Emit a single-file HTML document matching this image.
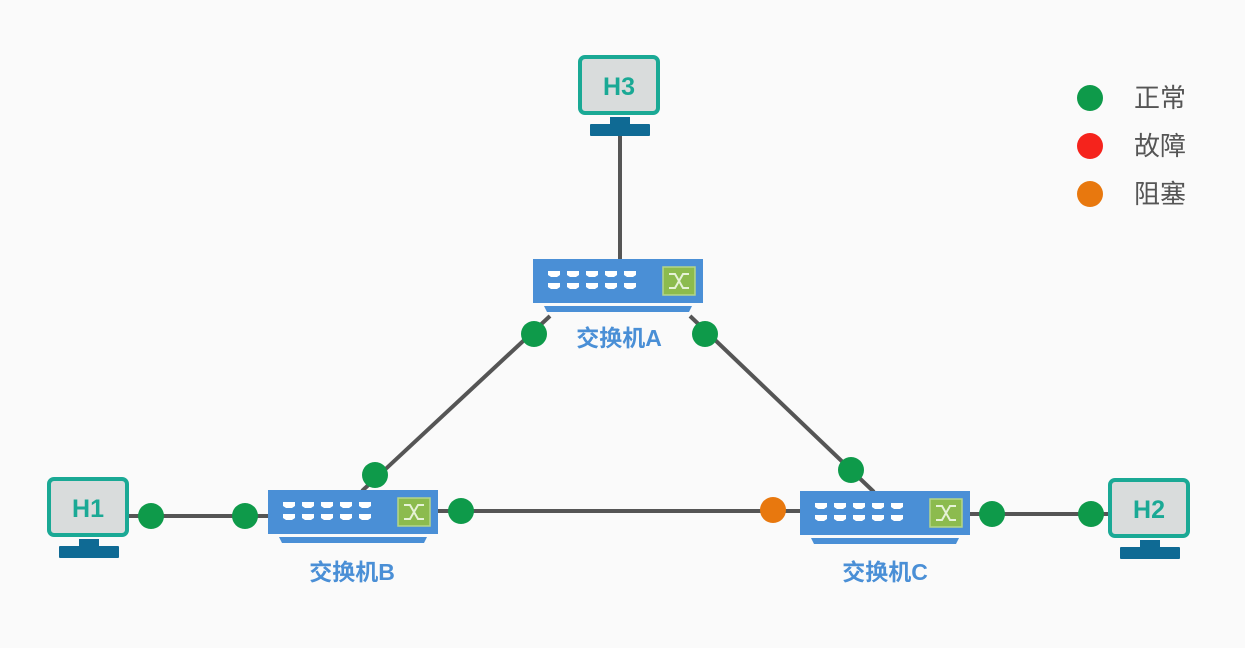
<!DOCTYPE html>
<html><head><meta charset="utf-8"><style>
html,body{margin:0;padding:0;background:#fafafa;}
svg{display:block;}
text{font-family:"Liberation Sans","Noto Sans CJK SC",sans-serif;}
</style></head><body>
<svg width="1245" height="648" viewBox="0 0 1245 648" xmlns="http://www.w3.org/2000/svg">
<defs>
<g id="sw">
<rect x="0" y="0" width="170" height="44" fill="#4a8fd6"/>
<g fill="#ffffff">
<path d="M15 12h12v4l-3 2h-6l-3-2z"/><path d="M34 12h12v4l-3 2h-6l-3-2z"/><path d="M53 12h12v4l-3 2h-6l-3-2z"/><path d="M72 12h12v4l-3 2h-6l-3-2z"/><path d="M91 12h12v4l-3 2h-6l-3-2z"/>
<path d="M15 24h12v4l-3 2h-6l-3-2z"/><path d="M34 24h12v4l-3 2h-6l-3-2z"/><path d="M53 24h12v4l-3 2h-6l-3-2z"/><path d="M72 24h12v4l-3 2h-6l-3-2z"/><path d="M91 24h12v4l-3 2h-6l-3-2z"/>
</g>
<rect x="130" y="8" width="32" height="28" fill="#8cbb4e" stroke="#b5d68a" stroke-width="1.5"/>
<path d="M136 15h6l8 14h6M136 29h6l8-14h6" stroke="#e6f2d6" stroke-width="2" fill="none"/>
<path d="M11 47h148l-3 6H14z" fill="#4a8fd6"/>
</g>
<g id="pc">
<rect x="2" y="2" width="78" height="56" rx="5" fill="#d9dcdc" stroke="#1aa995" stroke-width="4"/>
<rect x="32" y="62" width="20" height="8" fill="#0f6a94"/>
<rect x="12" y="69" width="60" height="12" rx="1" fill="#0f6a94"/>
</g>
</defs>
<g stroke="#555" stroke-width="4" fill="none">
<line x1="620" y1="134" x2="620" y2="260"/>
<line x1="550" y1="316" x2="362" y2="491"/>
<line x1="690" y1="316" x2="874" y2="492"/>
<line x1="437" y1="511" x2="800" y2="511"/>
<line x1="129" y1="516" x2="268" y2="516"/>
<line x1="970" y1="514" x2="1108" y2="514"/>
</g>
<use href="#pc" x="578" y="55"/>
<use href="#pc" x="47" y="477"/>
<use href="#pc" x="1108" y="478"/>
<g fill="#1aa995" font-weight="bold" font-size="25" text-anchor="middle">
<text x="619" y="95">H3</text>
<text x="88" y="517">H1</text>
<text x="1149" y="518">H2</text>
</g>
<use href="#sw" x="533" y="259"/>
<use href="#sw" x="268" y="490"/>
<use href="#sw" x="800" y="491"/>
<g fill="#4a8fd6" font-weight="bold" font-size="23" text-anchor="middle">
<text x="619" y="346">交换机A</text>
<text x="352" y="580">交换机B</text>
<text x="885" y="580">交换机C</text>
</g>
<g fill="#0e9a4a">
<circle cx="534" cy="334" r="13"/><circle cx="705" cy="334" r="13"/>
<circle cx="375" cy="475" r="13"/><circle cx="851" cy="470" r="13"/>
<circle cx="151" cy="516" r="13"/><circle cx="245" cy="516" r="13"/>
<circle cx="461" cy="511" r="13"/>
<circle cx="992" cy="514" r="13"/><circle cx="1091" cy="514" r="13"/>
<circle cx="1090" cy="98" r="13"/>
</g>
<circle cx="773" cy="510" r="13" fill="#e8780e"/>
<circle cx="1090" cy="146" r="13" fill="#f5231c"/>
<circle cx="1090" cy="194" r="13" fill="#e8780e"/>
<g fill="#555" font-size="26">
<text x="1134" y="107">正常</text>
<text x="1134" y="155">故障</text>
<text x="1134" y="203">阻塞</text>
</g>
</svg>
</body></html>
